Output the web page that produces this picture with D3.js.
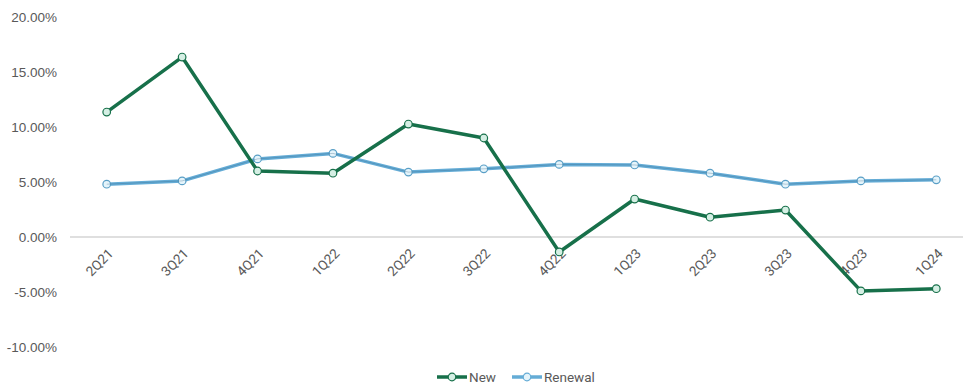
<!DOCTYPE html>
<html>
<head>
<meta charset="utf-8">
<script src="https://cdn.jsdelivr.net/npm/d3@7"></script>
<style>
  body { margin: 0; background: #fff; }
  svg { font-family: Roboto, sans-serif; }
</style>
</head>
<body>
<svg id="chart" width="963" height="385"></svg>
<script>
const quarters = ['2Q21', '3Q21', '4Q21', '1Q22', '2Q22', '3Q22', '4Q22', '1Q23', '2Q23', '3Q23', '4Q23', '1Q24']
const newVals = [11.36, 16.36, 6.0, 5.8, 10.27, 9.0, -1.36, 3.45, 1.8, 2.45, -4.9, -4.7]
const renewalVals = [4.8, 5.1, 7.1, 7.6, 5.9, 6.2, 6.6, 6.55, 5.8, 4.8, 5.1, 5.2]
const yTicks = [20, 15, 10, 5, 0, -5, -10]

const svg = d3.select('#chart')
const textColor = '#595959'

const x = d3.scaleBand()
  .domain(quarters)
  .range([69, 974])

const y = d3.scaleLinear()
  .domain([-10, 20])
  .range([347, 17])

const cx = (d, i) => x(quarters[i]) + x.bandwidth() / 2

// zero line
svg.append('line')
  .attr('x1', 70)
  .attr('x2', 963)
  .attr('y1', y(0))
  .attr('y2', y(0))
  .attr('stroke', '#bfbfbf')
  .attr('stroke-width', 1)

// y labels
const yAxis = svg.append('g')
  .attr('transform', 'translate(57,0)')
  .call(d3.axisLeft(y).tickValues(yTicks).tickSize(0).tickPadding(0).tickFormat(d => d.toFixed(2) + '%'))
yAxis.select('.domain').remove()
yAxis.selectAll('text')
  .style('font-size', '13.5px')
  .attr('fill', textColor)

// x labels
svg.append('g').selectAll('text')
  .data(quarters)
  .enter()
  .append('text')
  .attr('transform', d => `translate(${x(d) + x.bandwidth() / 2 + 4},${y(0) + 14}) rotate(-45)`)
  .attr('text-anchor', 'end')
  .attr('dy', '0.35em')
  .style('font-size', '13.5px')
  .attr('fill', textColor)
  .text(d => d)

const line = d3.line()
  .x(cx)
  .y(d => y(d))

function addSeries (vals, color, dot, fill, width) {
  svg.append('path')
    .attr('d', line(vals))
    .attr('fill', 'none')
    .attr('stroke', color)
    .attr('stroke-width', width)
    .attr('stroke-linejoin', 'round')
  svg.append('g').selectAll('circle')
    .data(vals)
    .enter()
    .append('circle')
    .attr('cx', cx)
    .attr('cy', d => y(d))
    .attr('r', 3.8)
    .attr('fill', fill)
    .attr('stroke', dot)
    .attr('stroke-width', 1.2)
}

addSeries(renewalVals, '#64acd6', '#5a9fc6', '#e4f4fb', 3.5)
svg.append('path')
  .attr('d', line(renewalVals))
  .attr('fill', 'none')
  .attr('stroke', '#2f5f80')
  .attr('stroke-width', 0.6)
  .attr('opacity', 0.5)
addSeries(newVals, '#17704a', '#17704a', '#d5efe4', 3.5)

// legend
const legend = [
  { name: 'New', color: '#17704a', fill: '#d5efe4', x: 437 },
  { name: 'Renewal', color: '#64acd6', fill: '#e4f4fb', x: 512 }
]
const lg = svg.append('g').selectAll('g')
  .data(legend)
  .enter()
  .append('g')
  .attr('transform', d => `translate(${d.x},377)`)
lg.append('line')
  .attr('x1', 0).attr('x2', 30)
  .attr('stroke', d => d.color)
  .attr('stroke-width', 3.5)
lg.append('circle')
  .attr('cx', 15)
  .attr('r', 3.8)
  .attr('fill', d => d.fill)
  .attr('stroke', d => d.color)
  .attr('stroke-width', 1.2)
lg.append('text')
  .attr('x', 32)
  .attr('dy', '0.35em')
  .style('font-size', '13.5px')
  .attr('fill', textColor)
  .text(d => d.name)
</script>
</body>
</html>
